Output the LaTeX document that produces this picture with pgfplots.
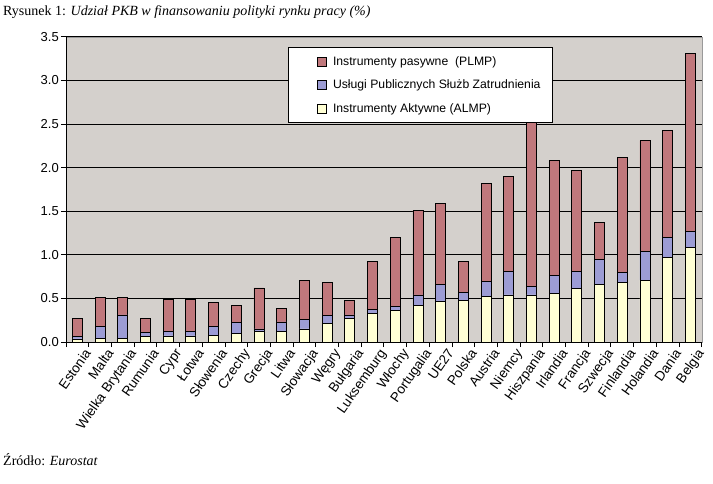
\documentclass[border=0pt]{standalone}
\usepackage{fontspec}
\setmainfont{Liberation Sans}
\newfontfamily\seriffont{Liberation Serif}
\usepackage{pgfplots}
\pgfplotsset{compat=1.18}
\usepackage{pgfplotstable}
\definecolor{bgc}{HTML}{D4D0CC}
\definecolor{rose}{HTML}{C0787C}
\definecolor{lav}{HTML}{9C9CD4}
\definecolor{cream}{HTML}{FFFFD4}

\pgfplotstableread{
x almp pes plmp
0 0.035 0.025 0.21
1 0.043 0.137 0.33
2 0.043 0.267 0.20
3 0.06 0.05 0.16
4 0.07 0.05 0.37
5 0.07 0.05 0.37
6 0.08 0.10 0.27
7 0.10 0.12 0.20
8 0.125 0.025 0.47
9 0.125 0.105 0.15
10 0.15 0.11 0.45
11 0.21 0.09 0.38
12 0.265 0.045 0.17
13 0.33 0.04 0.55
14 0.36 0.05 0.79
15 0.42 0.12 0.97
16 0.47 0.19 0.93
17 0.48 0.09 0.35
18 0.52 0.17 1.13
19 0.54 0.27 1.09
20 0.54 0.10 1.88
21 0.56 0.20 1.32
22 0.61 0.20 1.16
23 0.66 0.285 0.43
24 0.68 0.12 1.32
25 0.71 0.33 1.27
26 0.97 0.23 1.23
27 1.08 0.19 2.04
}\data

\begin{document}
\begin{tikzpicture}
\path[use as bounding box] (0pt,0pt) rectangle (713pt,-483pt);
\node[anchor=base west, inner sep=0pt, font=\seriffont\fontsize{14}{16}\selectfont] at (3pt,-15pt)
  {Rysunek 1: \textit{Udział PKB w finansowaniu polityki rynku pracy (\%)}};
\node[anchor=base west, inner sep=0pt, font=\seriffont\fontsize{14}{16}\selectfont] at (3pt,-465pt)
  {Źródło: \textit{Eurostat}};
\begin{axis}[
  at={(66pt,-342pt)}, anchor=south west,
  scale only axis, width=635.7pt, height=305.3pt,
  xmin=-0.5, xmax=27.5, ymin=0, ymax=3.5,
  ybar stacked, bar width=10pt,
  axis background/.style={fill=bgc, draw=gray!80},
  axis x line*=bottom, axis y line*=left,
  axis line style={-, black, line width=0.8pt},
  ymajorgrids, major grid style={black, line width=0.6pt},
  ytick={0,0.5,1,1.5,2,2.5,3,3.5},
  y tick label style={/pgf/number format/fixed, /pgf/number format/fixed zerofill, /pgf/number format/precision=1, /pgf/number format/assume math mode=true, font=\fontsize{13}{15}\selectfont, inner sep=2pt},
  tick align=outside, major tick length=5pt,
  tick style={black, line width=0.8pt},
  xtick={-0.5,0.5,...,27.5}, xticklabels={},
  extra x ticks={0,1,...,27},
  extra x tick labels={Estonia,Malta,Wielka Brytania,Rumunia,Cypr,Łotwa,Słowenia,Czechy,Grecja,Litwa,Słowacja,Węgry,Bułgaria,Luksemburg,Włochy,Portugalia,UE27,Polska,Austria,Niemcy,Hiszpania,Irlandia,Francja,Szwecja,Finlandia,Holandia,Dania,Belgia},
  extra x tick style={major tick length=0pt, tick label style={rotate=55, anchor=north east, font=\fontsize{13.5}{15}\selectfont, inner sep=1pt, yshift=-7pt, xshift=0pt}},
  reverse legend,
  legend cell align=left,
  legend image code/.code={\path (0pt,0pt) (32pt,0pt); \draw[#1, draw=black, line width=0.5pt] (19pt,-4.5pt) rectangle (28pt,4.5pt);},
  legend style={at={(0.349,0.966)}, anchor=north west, draw=black, fill=white,
    font=\fontsize{12.2}{14}\selectfont, row sep=9pt, inner xsep=10pt, inner ysep=7pt,
    line width=0.8pt},
]
\addplot[fill=cream, draw=black, line width=0.8pt] table[x=x,y=almp]{\data};
\addplot[fill=lav, draw=black, line width=0.8pt] table[x=x,y=pes]{\data};
\addplot[fill=rose, draw=black, line width=0.8pt] table[x=x,y=plmp]{\data};
\legend{Instrumenty Aktywne (ALMP),Usługi Publicznych Służb Zatrudnienia,Instrumenty pasywne\ \ (PLMP)}
\end{axis}
\end{tikzpicture}
\end{document}
